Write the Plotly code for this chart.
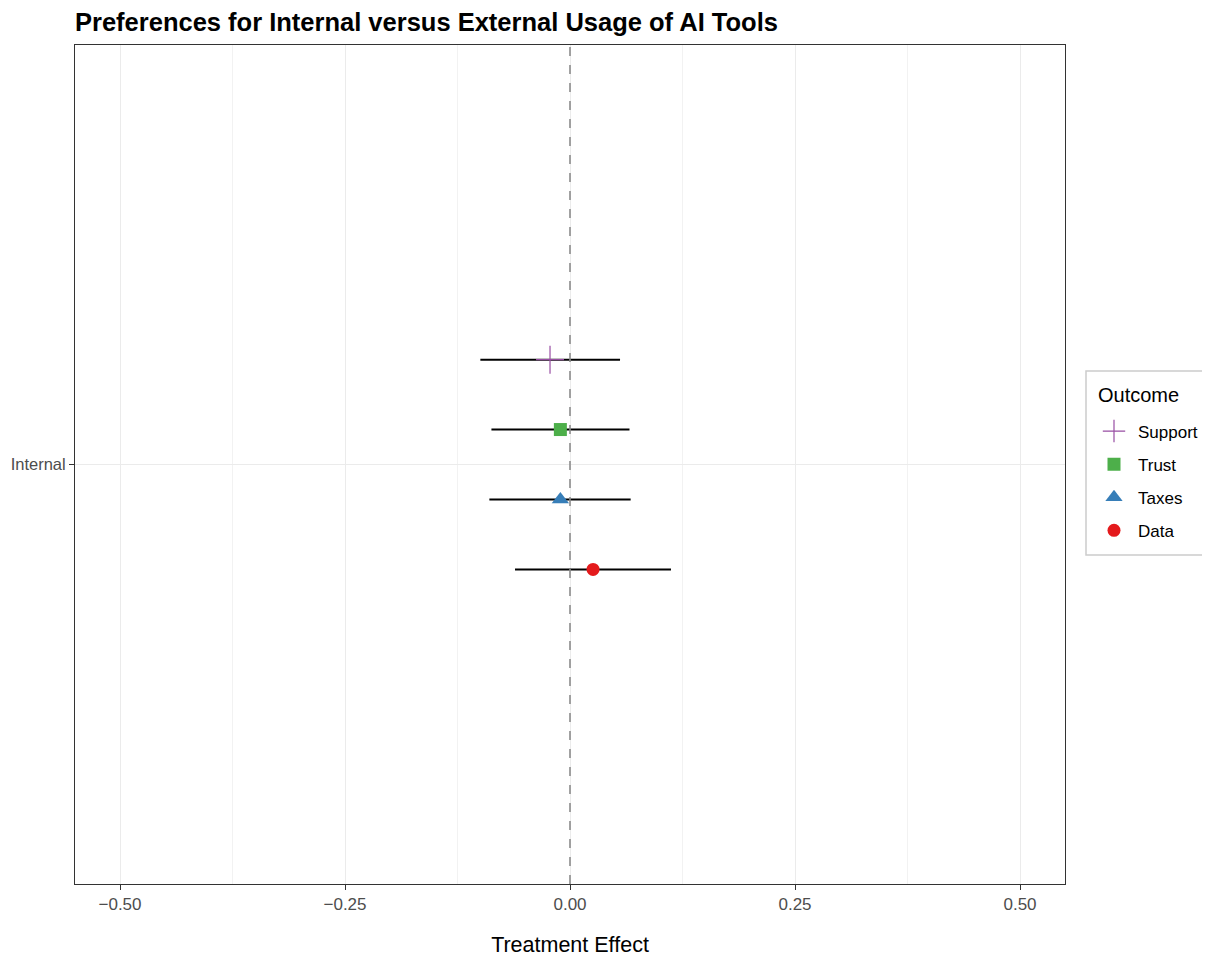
import plotly.graph_objects as go

outcomes = ["Support", "Trust", "Taxes", "Data"]
estimates = [-0.0222, -0.0107, -0.0107, 0.0256]
ci_low = [-0.0996, -0.0873, -0.0896, -0.0611]
ci_high = [0.0556, 0.0661, 0.0674, 0.1122]
dodge = [0.15, 0.05, -0.05, -0.15]
category = "Internal"
x_ticks = [-0.50, -0.25, 0.00, 0.25, 0.50]
x_tick_labels = ["\u22120.50", "\u22120.25", "0.00", "0.25", "0.50"]

colors = {"Support": "#984EA3", "Trust": "#4DAF4A", "Taxes": "#377EB8", "Data": "#E41A1C"}
symbols = {"Support": "cross-thin", "Trust": "square", "Taxes": "triangle-up", "Data": "circle"}
sizes = {"Support": 20, "Trust": 13, "Taxes": 15, "Data": 13}

W, H = 1202, 949
OFF = 8  # page body margin
# panel in screen pixels
PL, PR, PT, PB = 75, 1065, 45, 884


def px(sx):
    return (sx - PL) / (PR - PL)


def py(sy):
    return (PB - sy) / (PB - PT)


fig = go.Figure()
for name, est, lo, hi, off in zip(outcomes, estimates, ci_low, ci_high, dodge):
    marker = dict(color=colors[name], symbol=symbols[name], size=sizes[name])
    if name == "Support":
        marker["line"] = dict(color=colors[name], width=1.2)
    else:
        marker["line"] = dict(width=0)
    fig.add_trace(go.Scatter(
        x=[est], y=[1 + off], mode="markers", name=name, legendgroup=name,
        marker=marker,
        error_x=dict(type="data", symmetric=False, array=[hi - est], arrayminus=[est - lo],
                     color="black", thickness=2, width=0),
    ))

# minor gridlines
for v in [-0.375, -0.125, 0.125, 0.375]:
    fig.add_shape(type="line", xref="x", yref="paper", x0=v, x1=v, y0=0, y1=1,
                  line=dict(color="#F2F2F2", width=1), layer="between")

fig.add_shape(type="line", xref="x", yref="paper", x0=0, x1=0, y0=0, y1=1,
              line=dict(color="#8C8C8C", width=1.6, dash="dash"), layer="above")

# legend box and title
fig.add_shape(type="rect", xref="paper", yref="paper",
              x0=px(1086), x1=px(1240), y0=py(555), y1=py(371),
              line=dict(color="#CCCCCC", width=1.5), fillcolor="rgba(0,0,0,0)", layer="above")
fig.add_annotation(text="Outcome", xref="paper", yref="paper", x=px(1096), y=py(395),
                   xanchor="left", yanchor="middle", showarrow=False,
                   font=dict(size=20, color="black"))

fig.update_layout(
    width=W, height=H,
    margin=dict(l=67, r=145, t=37, b=73),
    paper_bgcolor="white", plot_bgcolor="white",
    font=dict(family="Liberation Sans, Arial, sans-serif", color="#4D4D4D"),
    title=dict(text="<b>Preferences for Internal versus External Usage of AI Tools</b>",
               x=67 / W, xanchor="left", y=1 - 5 / H, yanchor="top",
               font=dict(size=25.5, color="black")),
    showlegend=True,
    legend=dict(font=dict(size=17, color="black"),
                xref="container", yref="container",
                x=(1090 - OFF) / W, xanchor="left", y=1 - (481 - OFF) / H, yanchor="middle",
                borderwidth=0, bgcolor="rgba(0,0,0,0)",
                traceorder="grouped", itemsizing="trace", tracegroupgap=8, itemwidth=38),
    xaxis=dict(range=[-0.55, 0.55], tickvals=x_ticks, ticktext=x_tick_labels,
               tickfont=dict(size=17, color="#4D4D4D"),
               ticks="outside", ticklen=5, tickcolor="#333333", automargin=False,
               showgrid=True, gridcolor="#EBEBEB", gridwidth=1, zeroline=False,
               showline=True, linecolor="#333333", linewidth=1, mirror=True,
               title=dict(text="Treatment Effect", font=dict(size=21.5, color="black"), standoff=28)),
    yaxis=dict(range=[0.4, 1.6], tickvals=[1], ticktext=[category],
               tickfont=dict(size=16.5, color="#4D4D4D"),
               ticks="outside", ticklen=5, tickcolor="#333333", automargin=False,
               showgrid=True, gridcolor="#EBEBEB", gridwidth=1, zeroline=False,
               showline=True, linecolor="#333333", linewidth=1, mirror=True),
)

fig.write_html("out.html")
